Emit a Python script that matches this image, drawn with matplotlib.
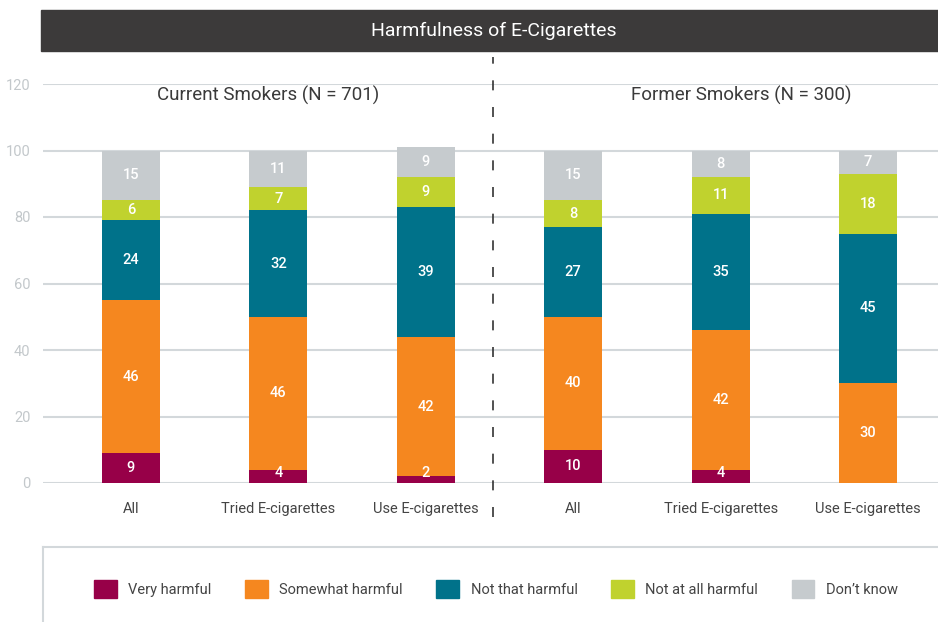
import matplotlib.pyplot as plt
import numpy as np
from matplotlib.patches import Rectangle
from matplotlib.lines import Line2D

plt.rcParams["font.family"] = ["Roboto", "DejaVu Sans"]

categories = ["All", "Tried E-cigarettes", "Use E-cigarettes",
              "All", "Tried E-cigarettes", "Use E-cigarettes"]
groups = ["Current Smokers (N = 701)", "Former Smokers (N = 300)"]
series = ["Very harmful", "Somewhat harmful", "Not that harmful",
          "Not at all harmful", "Don\u2019t know"]

very_harmful = [9, 4, 2, 10, 4, 0]
somewhat_harmful = [46, 46, 42, 40, 42, 30]
not_that_harmful = [24, 32, 39, 27, 35, 45]
not_at_all_harmful = [6, 7, 9, 8, 11, 18]
dont_know = [15, 11, 9, 15, 8, 7]

colors = ["#970048", "#f5871f", "#00728a", "#c0d22e", "#c6cbce"]
grid_color = "#d3d8db"
text_color = "#444444"

fig = plt.figure(figsize=(9.38, 6.22), dpi=100)
ax = fig.add_axes([43 / 938, 1 - 483 / 622, (938 - 43) / 938, (483 - 84) / 622])

x = np.arange(len(categories))
bottom = np.zeros(len(categories))
values = [very_harmful, somewhat_harmful, not_that_harmful,
          not_at_all_harmful, dont_know]
for vals, color, name in zip(values, colors, series):
    vals = np.array(vals, dtype=float)
    ax.bar(x, vals, bottom=bottom, width=0.393, color=color, label=name,
           zorder=3, linewidth=0)
    for xi, b, v in zip(x, bottom, vals):
        if v > 0:
            ax.text(xi, max(b + v / 2, 3.0), f"{v:g}", ha="center", va="center",
                    color="white", fontsize=10.5, fontweight="medium", zorder=4)
    bottom += vals

ax.set_xlim(-0.597, 5.475)
ax.set_ylim(0, 120)
ax.set_yticks(range(0, 121, 20))
ax.yaxis.grid(True, color=grid_color, linewidth=1.5, zorder=0)
ax.set_xticks(x)
ax.set_xticklabels(categories, fontsize=10.5, color=text_color)
ax.tick_params(axis="x", length=0, pad=14)
ax.tick_params(axis="y", length=0, pad=9, labelsize=10.5, labelcolor="#c3c8cb")
for s in ax.spines.values():
    s.set_visible(False)

# dashed divider between the two smoker groups
ax.plot([2.455, 2.455], [-10.2, 128], color="#333333", linewidth=1.2,
        linestyle=(0, (6, 10)), clip_on=False, zorder=5)

ax.text(0.93, 116.5, groups[0], ha="center", va="center", fontsize=13.5,
        color="#3a3a3a")
ax.text(4.14, 116.5, groups[1], ha="center", va="center", fontsize=13.5,
        color="#3a3a3a")

# title bar
fig.patches.append(Rectangle((41 / 938, 1 - 51 / 622), 1 - 41 / 938, 41 / 622,
                             transform=fig.transFigure, color="#3c3a3a",
                             zorder=0))
fig.text(494 / 938, 1 - 31 / 622, "Harmfulness of E-Cigarettes", ha="center",
         va="center", color="white", fontsize=14)

# legend frame lines
fig.lines.append(Line2D([43 / 938, 1], [1 - 547 / 622] * 2,
                        transform=fig.transFigure, color=grid_color, linewidth=1.5))
fig.lines.append(Line2D([43 / 938] * 2, [0, 1 - 547 / 622],
                        transform=fig.transFigure, color=grid_color, linewidth=1.5))

handles = [Rectangle((0, 0), 1, 1, color=c) for c in colors]
fig.legend(handles, series, loc="center", bbox_to_anchor=(496 / 938, 1 - 589 / 622),
           ncol=5, frameon=False, fontsize=10.5, labelcolor=text_color,
           handlelength=1.55, handleheight=1.55, handletextpad=0.8,
           columnspacing=2.3)

fig.savefig("out.png", dpi=100)
